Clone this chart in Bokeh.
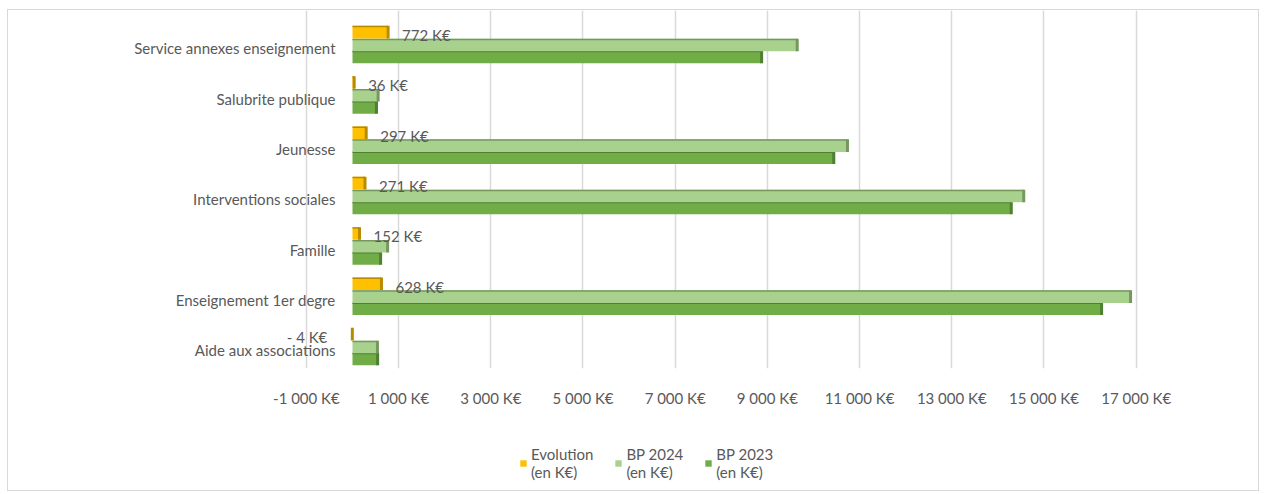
from bokeh.plotting import figure
from bokeh.layouts import column
from bokeh.models import Range1d, FixedTicker, Legend, LegendItem, ColumnDataSource
from bokeh.core.properties import value
from bokeh.embed import file_html
from bokeh.resources import INLINE

# ---- data (K€), listed top to bottom as in the chart ----
categories = ["Service annexes enseignement", "Salubrite publique", "Jeunesse",
              "Interventions sociales", "Famille", "Enseignement 1er degre",
              "Aide aux associations"]
bp2023 = [8875, 520, 10440, 14290, 610, 16250, 545]
bp2024 = [9647, 556, 10737, 14561, 762, 16878, 541]
evolution = [772, 36, 297, 271, 152, 628, -4]
x_ticks = [-1000, 1000, 3000, 5000, 7000, 9000, 11000, 13000, 15000, 17000]
series_names = ["Evolution\n(en K€)", "BP 2024\n(en K€)", "BP 2023\n(en K€)"]
colors = {"evo": "#FFC000", "b24": "#A9D18E", "b23": "#70AD47"}
darks = {"evo": "#B88A00", "b24": "#76985F", "b23": "#4F7F32"}

FONT = "Lato"
TXT = "#595959"
FS = "15px"
n = len(categories)
ypos = [n - 1 - i for i in range(n)]

def fmt(v):
    s = f"{abs(v):,}".replace(",", " ")
    return ("-" if v < 0 else "") + s + " K€"

p = figure(width=1250, height=400, output_backend="svg", toolbar_location=None,
           x_range=Range1d(-6855, 19610), y_range=Range1d(-0.358, 6.755),
           min_border_left=28, min_border_right=2, min_border_top=0,
           min_border_bottom=42)
p.outline_line_color = None

# axes
p.yaxis.visible = False
p.ygrid.visible = False
p.xaxis.ticker = FixedTicker(ticks=x_ticks)
p.xaxis.major_label_overrides = {t: fmt(t) for t in x_ticks}
p.xaxis.axis_line_color = None
p.xaxis.major_tick_line_color = None
p.xaxis.minor_tick_line_color = None
p.xaxis.major_label_standoff = 14
p.xaxis.major_label_text_font = FONT
p.xaxis.major_label_text_font_size = FS
p.xaxis.major_label_text_color = TXT
p.xgrid.ticker = FixedTicker(ticks=x_ticks)
p.xgrid.grid_line_color = "#d9d9d9"
p.xgrid.grid_line_width = 1.5

H = 0.25
off = {"evo": 0.325, "b24": 0.07, "b23": -0.17}

data = dict(
    y=ypos, b23=bp2023, b24=bp2024, evo=evolution,
    lab=[("- " + fmt(-v)) if v < 0 else fmt(v) for v in evolution],
    align=["left" if v >= 0 else "right" for v in evolution],
    xo=[14 if v >= 0 else -25 for v in evolution],
)
for k in ("evo", "b24", "b23"):
    data["y_" + k] = [y + off[k] for y in ypos]
    data["y_" + k + "_top"] = [y + off[k] + H / 2 - 0.015 for y in ypos]
src = ColumnDataSource(data)

for key in ("b23", "b24", "evo"):
    p.hbar(y="y_" + key, right=key, left=0, height=H, source=src,
           fill_color=colors[key], line_color=None)
    p.hbar(y="y_" + key + "_top", right=key, left=0, height=0.03, source=src,
           fill_color=darks[key], line_color=None)
    p.rect(x=key, y="y_" + key, width=3, width_units="screen", height=H,
           source=src, fill_color=darks[key], line_color=None)

# data labels for Evolution
p.text(x="evo", y="y_evo", text="lab", source=src, text_align="align",
       x_offset="xo", y_offset=3, text_baseline="middle",
       text_font=value(FONT), text_font_size=FS, text_color=TXT)

# category labels
cat_src = ColumnDataSource(dict(y=ypos, cat=categories, x0=[0] * n))
p.text(x="x0", y="y", text="cat", source=cat_src,
       text_align="right", text_baseline="middle", x_offset=-17,
       text_font=value(FONT), text_font_size=FS, text_color=TXT)

# ---- legend strip below ----
p2 = figure(width=1250, height=80, output_backend="svg", toolbar_location=None,
            x_range=Range1d(0, 1), y_range=Range1d(0, 1),
            min_border_left=0, min_border_right=0, min_border_top=0,
            min_border_bottom=0)
p2.axis.visible = False
p2.grid.visible = False
p2.outline_line_color = None
leg_r = {}
for key in ("evo", "b24", "b23"):
    leg_r[key] = p2.hbar(y=[-5], right=[0], left=[0], height=0.1,
                         fill_color=colors[key], line_color=None)
legend = Legend(items=[LegendItem(label=series_names[0], renderers=[leg_r["evo"]]),
                       LegendItem(label=series_names[1], renderers=[leg_r["b24"]]),
                       LegendItem(label=series_names[2], renderers=[leg_r["b23"]])],
                orientation="horizontal", location=(483, 9),
                glyph_width=8, glyph_height=8, label_standoff=4, spacing=21,
                label_text_font=FONT, label_text_font_size=FS,
                label_text_color=TXT, border_line_color=None,
                background_fill_alpha=0, margin=0, padding=0)
p2.add_layout(legend, "center")

layout = column(p, p2, spacing=0, margin=(9, 0, 0, 7),
                styles={"border": "1px solid #d9d9d9"})
open("out.html", "w").write(file_html(layout, INLINE))
